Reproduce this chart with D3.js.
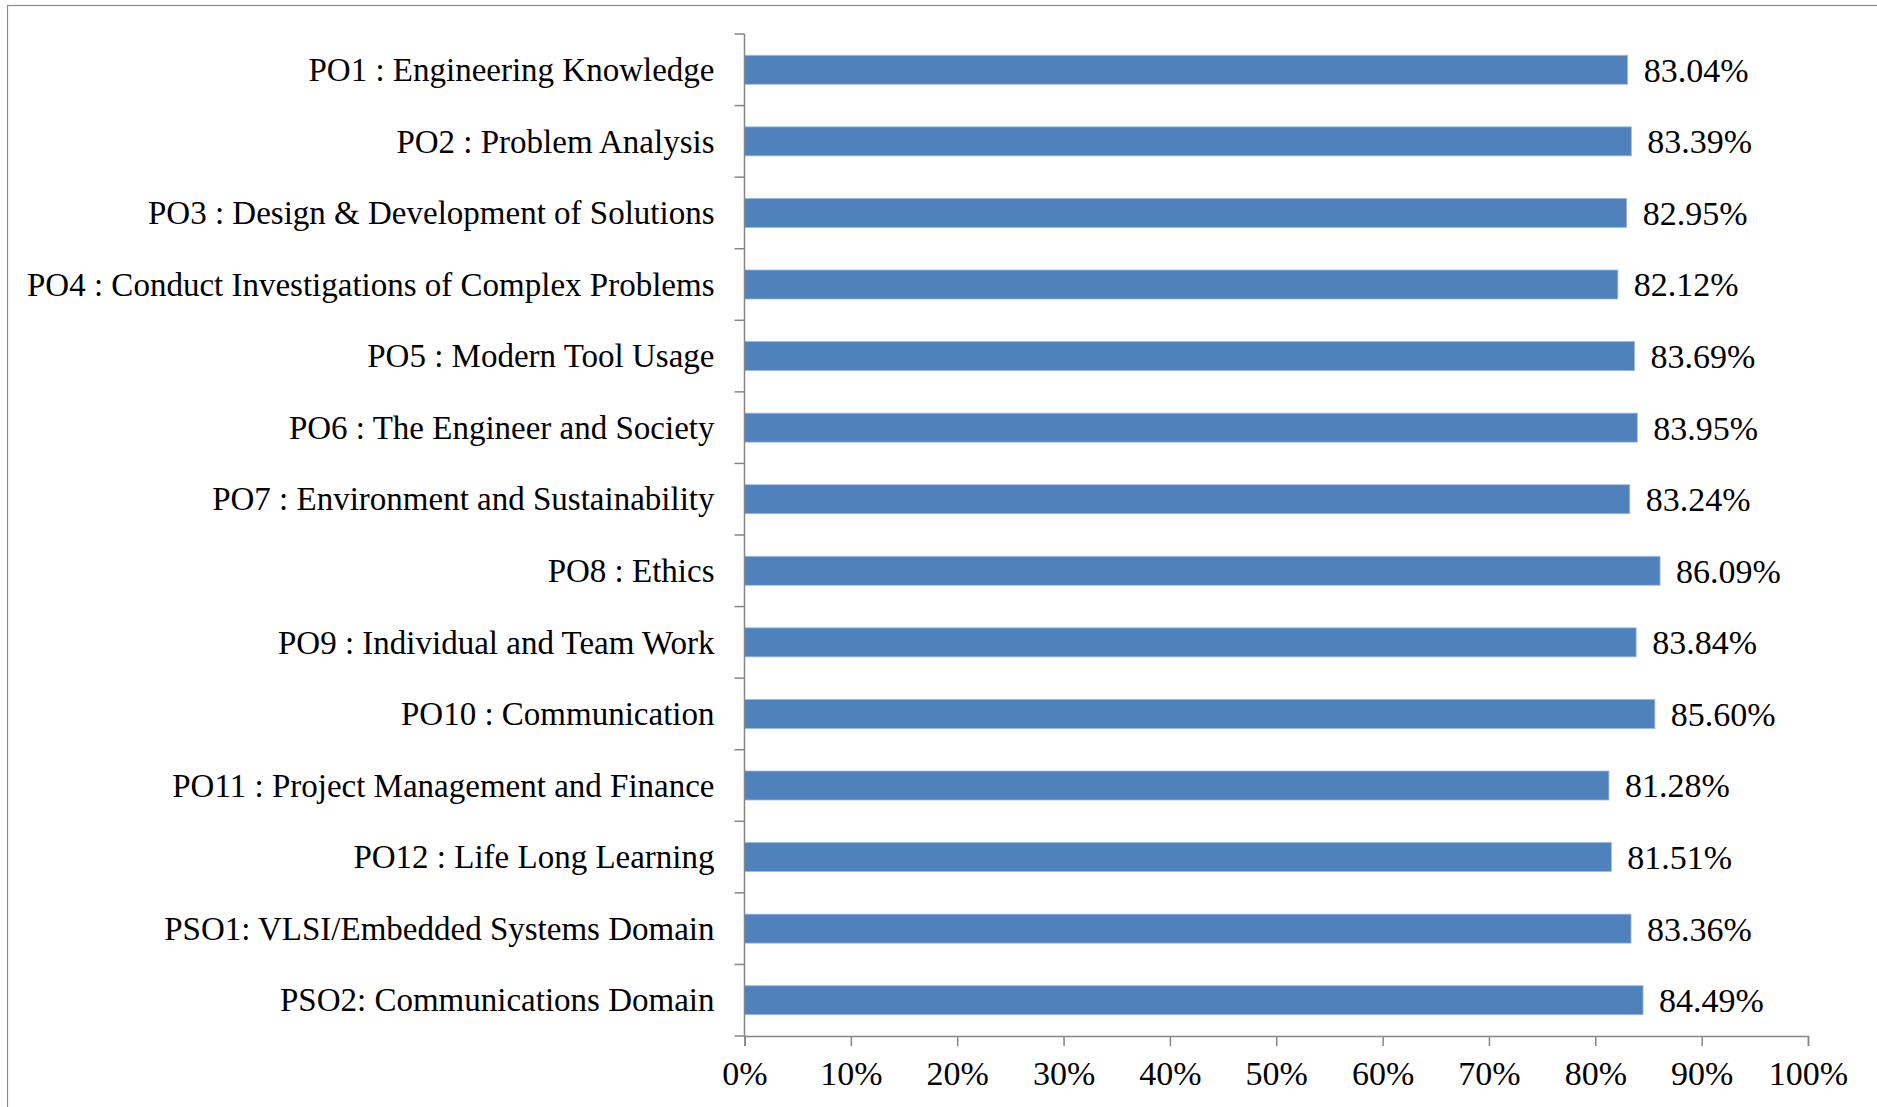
<!DOCTYPE html>
<html><head><meta charset="utf-8">
<script src="https://cdn.jsdelivr.net/npm/d3@7"></script>
<style>body{margin:0;background:#fff;}svg{display:block;}</style>
</head><body>
<svg id="c" width="1877" height="1107"></svg>
<script>
const categories = [
  "PO1 : Engineering Knowledge",
  "PO2 : Problem Analysis",
  "PO3 : Design & Development of Solutions",
  "PO4 : Conduct Investigations of Complex Problems",
  "PO5 : Modern Tool Usage",
  "PO6 : The Engineer and Society",
  "PO7 : Environment and Sustainability",
  "PO8 : Ethics",
  "PO9 : Individual and Team Work",
  "PO10 : Communication",
  "PO11 : Project Management and Finance",
  "PO12 : Life Long Learning",
  "PSO1: VLSI/Embedded Systems Domain",
  "PSO2: Communications Domain"
];
const values = [83.04, 83.39, 82.95, 82.12, 83.69, 83.95, 83.24, 86.09, 83.84, 85.60, 81.28, 81.51, 83.36, 84.49];
const xTicks = [0, 10, 20, 30, 40, 50, 60, 70, 80, 90, 100];

(function () {
const svg = d3.select("#c");
const font = "'Liberation Serif', 'Times New Roman', serif";
const pLeft = 744.5, pRight = 1808, pTop = 34, pBottom = 1036;

svg.append("rect").attr("x", 7.5).attr("y", 5.5).attr("width", 1900).attr("height", 1200)
  .attr("fill", "#fff").attr("stroke", "#8c8c8c").attr("stroke-width", 1.2);

const x = d3.scaleLinear().domain([0, 100]).range([pLeft, pRight]);
const y = d3.scaleBand().domain(categories).range([pTop, pBottom]).paddingInner(0.595).paddingOuter(0.2975);

// bars
svg.append("g").selectAll("rect").data(values).join("rect")
  .attr("x", x(0)).attr("y", (d, i) => y(categories[i]))
  .attr("width", d => x(d) - x(0)).attr("height", y.bandwidth())
  .attr("fill", "#4F81BD").attr("stroke", "#9dbbe0").attr("stroke-width", 0.8);

// y axis
const yAxisG = svg.append("g");
yAxisG.append("line").attr("x1", pLeft).attr("x2", pLeft).attr("y1", pTop).attr("y2", pBottom)
  .attr("stroke", "#868686").attr("stroke-width", 1.5);
const step = y.step();
const yTickPos = d3.range(categories.length + 1).map(i => pTop + i * step);
yAxisG.selectAll("line.t").data(yTickPos).join("line").attr("class", "t")
  .attr("x1", pLeft - 10).attr("x2", pLeft).attr("y1", d => d).attr("y2", d => d)
  .attr("stroke", "#868686").attr("stroke-width", 1.5);
yAxisG.selectAll("text").data(categories).join("text")
  .attr("x", pLeft - 30).attr("y", d => y(d) + y.bandwidth() / 2)
  .attr("dy", "0.34em").attr("text-anchor", "end")
  .attr("font-family", font).attr("font-size", 33).attr("fill", "#000")
  .text(d => d);

// x axis
const xAxis = d3.axisBottom(x).tickValues(xTicks).tickFormat(d => d + "%").tickSize(10).tickPadding(15);
const xg = svg.append("g").attr("transform", `translate(0,${pBottom})`).call(xAxis);
xg.select(".domain").attr("stroke", "#868686").attr("stroke-width", 1.5);
xg.selectAll(".tick line").attr("stroke", "#868686").attr("stroke-width", 1.5);
xg.selectAll(".tick text").attr("font-family", font).attr("font-size", 34).attr("fill", "#000");

// value labels
svg.append("g").selectAll("text").data(values).join("text")
  .attr("x", d => x(d) + 16).attr("y", (d, i) => y(categories[i]) + y.bandwidth() / 2)
  .attr("dy", "0.35em")
  .attr("font-family", font).attr("font-size", 34).attr("fill", "#000")
  .text(d => d.toFixed(2) + "%");
})();
</script>
</body></html>
